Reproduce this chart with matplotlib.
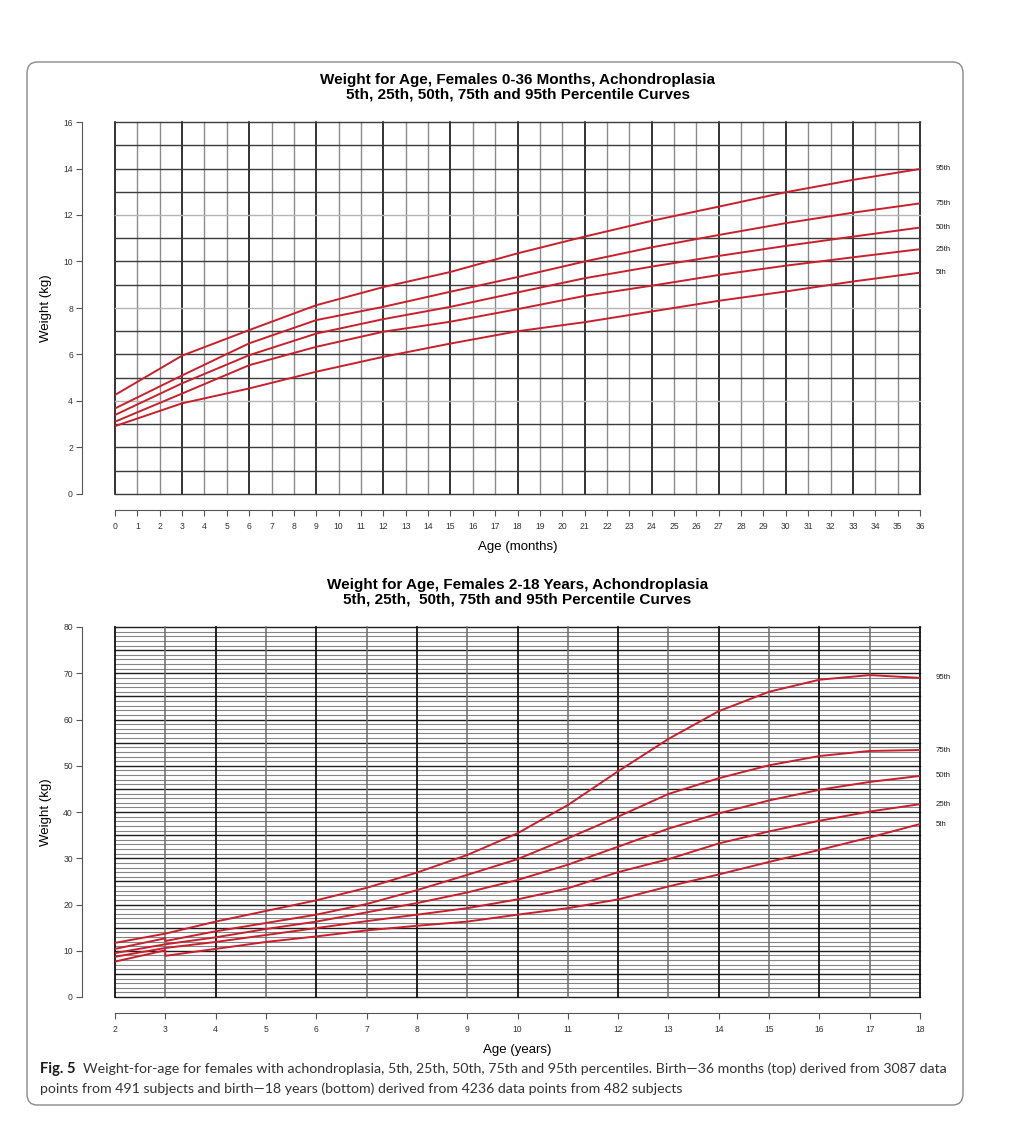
import numpy as np
import matplotlib
matplotlib.use("Agg")
from matplotlib import pyplot as plt
from matplotlib.patches import FancyBboxPatch

#=============================================================================
# data
months = [0, 3, 6, 9, 12, 15, 18, 21, 24, 27, 30, 33, 36]
inf_p95 = [4.26, 5.95, 7.05, 8.12, 8.90, 9.55, 10.35, 11.07, 11.75, 12.36, 12.98, 13.51, 13.98]
inf_p75 = [3.68, 5.10, 6.48, 7.48, 8.05, 8.70, 9.33, 10.00, 10.61, 11.14, 11.65, 12.10, 12.50]
inf_p50 = [3.40, 4.76, 5.97, 6.90, 7.52, 8.05, 8.67, 9.28, 9.78, 10.24, 10.67, 11.07, 11.46]
inf_p25 = [3.11, 4.32, 5.54, 6.33, 6.98, 7.41, 7.95, 8.52, 8.96, 9.42, 9.82, 10.18, 10.53]
inf_p5 = [2.92, 3.90, 4.54, 5.26, 5.90, 6.47, 7.00, 7.39, 7.85, 8.31, 8.71, 9.14, 9.52]

# age 3 appears twice: the curves have a step there
years = [2, 3, 3, 4, 5, 6, 7, 8, 9, 10, 11, 12, 13, 14, 15, 16, 17, 18]
ch_p95 = [11.7, 13.7, 13.7, 16.3, 18.6, 20.9, 23.6, 26.9, 30.7, 35.4, 41.5, 48.8, 55.8, 61.8, 66.0, 68.6, 69.6, 69.0]
ch_p75 = [10.4, 12.7, 12.1, 14.2, 16.0, 17.8, 20.1, 23.1, 26.4, 29.8, 34.3, 39.0, 43.9, 47.3, 50.1, 52.1, 53.2, 53.4]
ch_p50 = [9.5, 11.4, 11.4, 12.9, 14.7, 16.3, 18.3, 20.3, 22.6, 25.3, 28.6, 32.5, 36.4, 39.7, 42.5, 44.8, 46.5, 47.8]
ch_p25 = [8.7, 10.6, 10.6, 11.9, 13.4, 14.9, 16.4, 17.8, 19.2, 21.1, 23.5, 27.0, 29.8, 33.2, 35.8, 38.1, 40.1, 41.7]
ch_p5 = [7.65, 10.1, 8.9, 10.4, 11.9, 13.1, 14.4, 15.4, 16.3, 17.8, 19.2, 21.1, 23.9, 26.5, 29.2, 31.8, 34.5, 37.4]

pct_labels = ["95th", "75th", "50th", "25th", "5th"]

top_title = "Weight for Age, Females 0-36 Months, Achondroplasia\n5th, 25th, 50th, 75th and 95th Percentile Curves"
bot_title = "Weight for Age, Females 2-18 Years, Achondroplasia\n5th, 25th,  50th, 75th and 95th Percentile Curves"
caption_bold = "Fig. 5"
caption_text = ("Weight-for-age for females with achondroplasia, 5th, 25th, 50th, 75th and 95th percentiles. "
                "Birth\u201436 months (top) derived from 3087 data\n"
                "points from 491 subjects and birth\u201418 years (bottom) derived from 4236 data points from 482 subjects")

RED = "#c8202c"
plt.rcParams["font.family"] = ["Liberation Sans", "DejaVu Sans"]

W, H = 1011, 1130
PT = 72 / 100  # points per pixel at dpi 100
fig = plt.figure(figsize=(W / 100, H / 100), dpi=100)


def fx(px):
    return px / W


def fy(py):
    return 1 - py / H


# outer rounded frame
frame = FancyBboxPatch((fx(27), fy(1105)), fx(963) - fx(27), fy(62) - fy(1105),
                       boxstyle="round,pad=0,rounding_size=0.01", transform=fig.transFigure,
                       fill=False, edgecolor="#8a8a8a", linewidth=1.0)
fig.patches.append(frame)


def style_axes(ax, xticks, yticks, xlabel):
    for s in ["top", "right"]:
        ax.spines[s].set_visible(False)
    ax.spines["left"].set_position(("outward", 33 * PT))
    ax.spines["bottom"].set_position(("outward", 16 * PT))
    for s in ["left", "bottom"]:
        ax.spines[s].set_color("#555555")
        ax.spines[s].set_linewidth(0.8)
    ax.set_xticks(xticks)
    ax.set_yticks(yticks)
    ax.tick_params(direction="out", length=4, width=0.8, color="#555555",
                   labelsize=6.2, labelcolor="#333333")
    ax.tick_params(axis="y", pad=2.5)
    ax.tick_params(axis="x", pad=4.5)
    ax.set_xlabel(xlabel, fontsize=9.5, labelpad=7)
    ax.set_ylabel("Weight (kg)", fontsize=9.5, labelpad=8)


def draw_curves(ax, x, series):
    for vals, lab in zip(series, pct_labels):
        ax.plot(x, vals, color=RED, lw=1.4, solid_joinstyle="round", zorder=5)
        ax.annotate(lab, xy=(x[-1], vals[-1]), xytext=(11, 0), textcoords="offset points",
                    fontsize=5.6, va="center", ha="left", color="#222222", annotation_clip=False)


#---------------- top chart: 0-36 months
ax1 = fig.add_axes([fx(115), fy(494), fx(920) - fx(115), fy(122) - fy(494)])
ax1.set_xlim(0, 36)
ax1.set_ylim(0, 16)
for m in range(37):
    if m % 3 == 0:
        ax1.axvline(m, color="#111111", lw=1.2, clip_on=False, zorder=1)
    else:
        ax1.axvline(m, color="#8c8c8c", lw=1.0, clip_on=False, zorder=1)
for k in range(17):
    c = "#b5b5b5" if k in (4, 8, 12) else "#3c3c3c"
    ax1.axhline(k, color=c, lw=1.0, clip_on=False, zorder=1)
style_axes(ax1, range(0, 37), range(0, 17, 2), "Age (months)")
draw_curves(ax1, months, [inf_p95, inf_p75, inf_p50, inf_p25, inf_p5])
ax1.set_title(top_title, fontsize=11, fontweight="bold", pad=17, linespacing=1.0)

#---------------- bottom chart: 2-18 years
ax2 = fig.add_axes([fx(115), fy(997), fx(920) - fx(115), fy(627) - fy(997)])
ax2.set_xlim(2, 18)
ax2.set_ylim(0, 80)
for k in range(81):
    if k % 5 == 0:
        ax2.axhline(k, color="#1e1e1e", lw=1.0, clip_on=False, zorder=2)
    else:
        ax2.axhline(k, color="#858585", lw=0.8, clip_on=False, zorder=1)
for yr in range(2, 19):
    if yr % 2 == 0:
        ax2.axvline(yr, color="#111111", lw=1.3, clip_on=False, zorder=2)
    else:
        ax2.axvline(yr, color="#6a6a6a", lw=1.1, clip_on=False, zorder=2)
style_axes(ax2, range(2, 19), range(0, 81, 10), "Age (years)")
draw_curves(ax2, years, [ch_p95, ch_p75, ch_p50, ch_p25, ch_p5])
ax2.set_title(bot_title, fontsize=11, fontweight="bold", pad=17, linespacing=1.0)

#---------------- caption
cap_font = ["Lato", "DejaVu Sans"]
t_bold = fig.text(fx(40), fy(1069), caption_bold, fontsize=10.6, fontweight="bold",
                  family=cap_font, va="center", ha="left", color="#1a1a1a")
fig.canvas.draw()
bb = t_bold.get_window_extent()
fig.text(bb.x1 / W + fx(7), fy(1069), caption_text.split("\n")[0], fontsize=10.2,
         family=cap_font, va="center", ha="left", color="#333333")
fig.text(fx(40), fy(1089), caption_text.split("\n")[1], fontsize=10.2,
         family=cap_font, va="center", ha="left", color="#333333")

fig.savefig("out.png", dpi=100)
